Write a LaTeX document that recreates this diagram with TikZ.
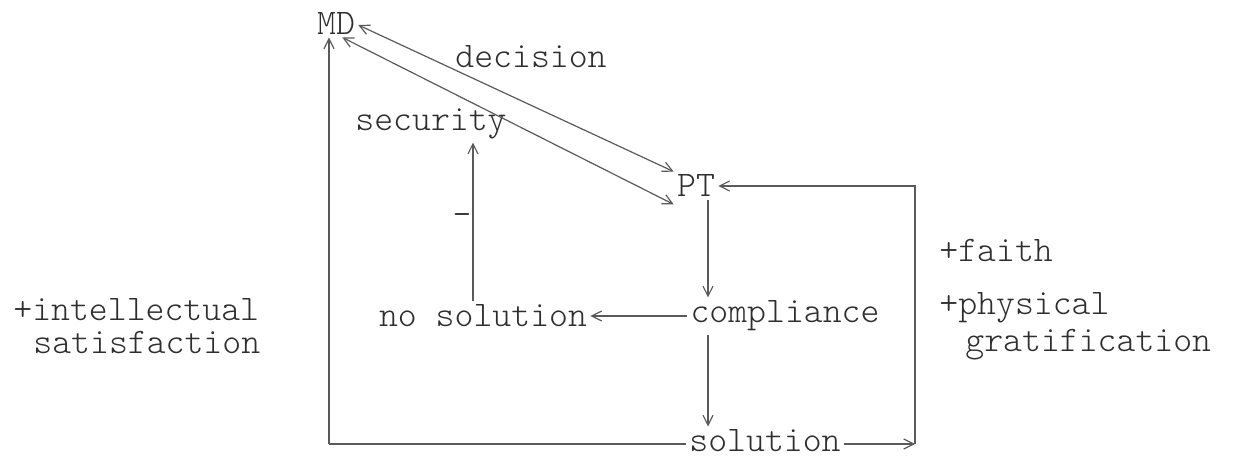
\documentclass[tikz,border=0pt]{standalone}
\usetikzlibrary{arrows.meta}
\definecolor{ink}{HTML}{2E2E2E}
\definecolor{wire}{HTML}{5A5A5A}
\begin{document}
\begin{tikzpicture}[x=0.5pt,y=-0.5pt,
  lbl/.style={font=\fontsize{18}{14.5}\fontseries{l}\ttfamily\selectfont, text=ink, inner sep=1.5pt},
  note/.style={lbl, align=left, anchor=west},
  wireline/.style={draw=wire, line width=0.6pt},
  arr/.style={wireline, -{Straight Barb[length=5pt,width=5pt]}},
  arrs/.style={wireline, {Straight Barb[length=5pt,width=5pt]}-{Straight Barb[length=5pt,width=5pt]}}]
\useasboundingbox (0,0) rectangle (1250,460);

% labels of the states
\node[lbl] (MD) at (336,23) {MD};
\node[lbl] (dec) at (531,57) {decision};
\node[lbl] (sec) at (431,124) {security};
\node[lbl] (PT) at (696,186) {PT};
\node[lbl] (nosol) at (483,316) {no solution};
\node[lbl] (comp) at (785,316) {compliance};
\node[lbl] (sol) at (765,441) {solution};
\node[lbl] (minus) at (462,220) {-};

% side remarks
\node[note] (intel) at (10,326) {+intellectual\\[2pt]\hspace*{10pt}satisfaction};
\node[note] (faith) at (936,251) {+faith};
\node[note] (phys) at (936,326) {+physical\\[2pt]\hspace*{13pt}gratification};

% helper points for the routed connectors
\coordinate (bl) at (329,444);
\coordinate (br) at (915,444);
\coordinate (cx) at (708,0);
\coordinate (sx) at (473,0);

% MD <-> PT
\draw[arrs] ([yshift=-1pt]MD.east) -- (PT.north west);
\draw[arrs] ([xshift=-8pt]MD.south east) -- ([yshift=-2pt]PT.south west);

% PT -> compliance -> solution, compliance -> no solution -> security
\draw[arr] (PT.south -| cx) -- (comp.north -| cx);
\draw[arr] (comp.south -| cx) -- (sol.north -| cx);
\draw[arr] (comp.west) -- (nosol.east);
\draw[arr] (nosol.north -| sx) -- (sec.south -| sx);

% solution feeds back to MD and PT
\draw[wireline] (sol.west |- bl) -- (bl);
\draw[arr] (bl) -- (bl |- MD.south);
\draw[arr] (sol.east |- br) -- (br);
\draw[arr] (br) -- (br |- PT) -- (PT.east);
\end{tikzpicture}
\end{document}
